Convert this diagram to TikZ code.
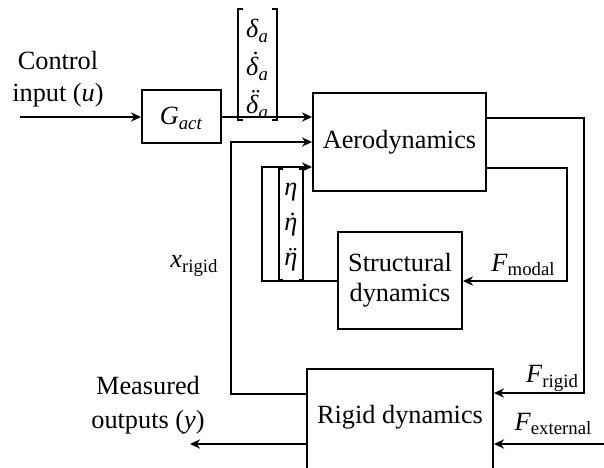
\documentclass[tikz,border=0pt]{standalone}
\usepackage{fontspec}
\setmainfont{Liberation Serif}
\usetikzlibrary{arrows.meta}
\newcommand\sbs[1]{\raisebox{-0.4ex}{\fontsize{9.4}{10}\selectfont #1}}
\newcommand\dt[1]{\accent"02D9 #1}
\newcommand\ddt[1]{\accent"00A8 #1}
\begin{document}
\begin{tikzpicture}[x=0.5pt,y=-0.5pt,
  every node/.style={font=\fontsize{13.15}{16}\selectfont, inner sep=0pt},
  blk/.style={draw, line width=1pt},
  wire/.style={line width=1pt},
  arr/.style={wire, -{Stealth[length=5pt,width=4.6pt,inset=1.6pt]}},
  brk/.style={line width=0.7pt},
  lbl/.style={align=center}]
\clip (0,0) rectangle (604,467);
% blocks
\node[blk, minimum width=39.5pt, minimum height=26.5pt] (gact) at (181.5,116.5) {};
\node at (181,118) (gtxt) {\textit{G}\sbs{\textit{act}}};
\node[blk, minimum width=86.5pt, minimum height=49pt] (aero) at (399.5,142) {};
\node (aerotxt) at (399.5,142) {Aerodynamics};
\node[blk, minimum width=62pt, minimum height=48.5pt] (struct) at (400,280.5) {};
\node[lbl, font=\fontsize{13.15}{15}\selectfont] (structtxt) at (400,280) {Structural\\dynamics};
\node[blk, minimum width=93pt, minimum height=50pt] (rigid) at (400,419) {};
\node (rigidtxt) at (400,417) {Rigid dynamics};
% labels
\node[lbl] (ctl) at (58,79) {Control\\input (\textit{u})};
\node[lbl, font=\fontsize{13.15}{17}\selectfont] (meas) at (148,405) {Measured\\outputs (\textit{y})};
\node (xr) at (194,266) {\textit{x}\sbs{rigid}};
\node (fm) at (523,265) {\textit{F}\sbs{modal}};
\node (fr) at (552,378) {\textit{F}\sbs{rigid}};
\node (fe) at (553,424) {\textit{F}\sbs{external}};
% delta vector
\node[lbl, font=\fontsize{13.15}{19}\selectfont] (dvec) at (257,69)
  {\textit{δ}\sbs{\textit{a}}\\\textit{\dt{δ}}\sbs{\textit{a}}\\\textit{\ddt{δ}}\sbs{\textit{a}}};
\draw[brk] (243,9) -- (238,9) -- (238,120) -- (243,120);
\draw[brk] (272,9) -- (277,9) -- (277,120) -- (272,120);
% eta vector
\node[lbl, font=\fontsize{13.15}{17.5}\selectfont] (evec) at (291,227)
  {\textit{η}\\\textit{\dt{η}}\\\textit{\ddt{η}}};
\draw[brk] (283,169) -- (279,169) -- (279,280) -- (283,280);
\draw[brk] (299,169) -- (303,169) -- (303,280) -- (299,280);
% coordinates
\coordinate (uin) at (20,117);
\coordinate (xa) at (231,394);
\coordinate (xb) at (231,142);
\coordinate (ra) at (584,118);
\coordinate (rb) at (584,393);
\coordinate (ma) at (567,168);
\coordinate (mb) at (567,281);
\coordinate (sa) at (262,281);
\coordinate (sb) at (262,167);
\coordinate (yout) at (190,444);
\coordinate (fein) at (606,444);
% connectors
\draw[arr] (uin) -- (uin -| gact.west);
\draw[arr] (gact.east |- uin) -- (uin -| aero.west);
\draw[arr] (rigid.west |- xa) -- (xa) -- (xb) -- (aero.west |- xb);
\draw[arr] (aero.east |- ra) -- (ra) -- (rb) -- (rigid.east |- rb);
\draw[arr] (aero.east |- ma) -- (ma) -- (mb) -- (struct.east |- mb);
\draw[arr] (struct.west |- sa) -- (sa) -- (sb) -- (aero.west |- sb);
\draw[arr] (rigid.west |- yout) -- (yout);
\draw[arr] (fein) -- (rigid.east |- fein);
\end{tikzpicture}
\end{document}
